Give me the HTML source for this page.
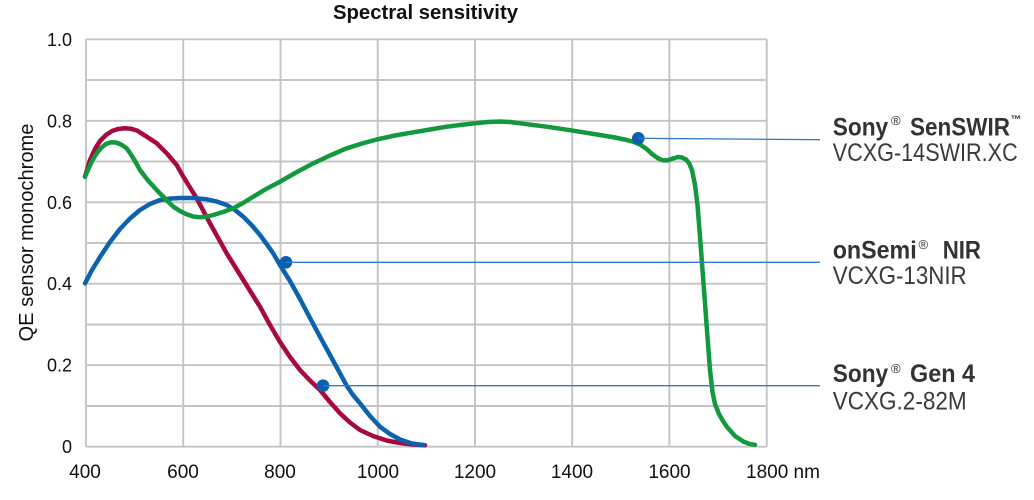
<!DOCTYPE html>
<html>
<head>
<meta charset="utf-8">
<style>
  html,body{margin:0;padding:0;background:#fff;}
  svg{display:block;}
  text{font-family:"Liberation Sans",Arial,sans-serif;}
</style>
</head>
<body>
<svg width="1034" height="500" viewBox="0 0 1034 500" xmlns="http://www.w3.org/2000/svg">
  <rect width="1034" height="500" fill="#fff"/>
  <!-- title -->
  <text x="425.5" y="19" font-size="20" font-weight="bold" text-anchor="middle" fill="#111" textLength="185" lengthAdjust="spacingAndGlyphs">Spectral sensitivity</text>

  <!-- grid -->
  <g stroke="#c4c4c4" stroke-width="1.9" fill="none">
    <line x1="86" y1="39.3" x2="766.7" y2="39.3"/>
    <line x1="86" y1="80" x2="766.7" y2="80"/>
    <line x1="86" y1="120.8" x2="766.7" y2="120.8"/>
    <line x1="86" y1="161.5" x2="766.7" y2="161.5"/>
    <line x1="86" y1="202.3" x2="766.7" y2="202.3"/>
    <line x1="86" y1="243" x2="766.7" y2="243"/>
    <line x1="86" y1="283.7" x2="766.7" y2="283.7"/>
    <line x1="86" y1="324.5" x2="766.7" y2="324.5"/>
    <line x1="86" y1="365.2" x2="766.7" y2="365.2"/>
    <line x1="86" y1="406" x2="766.7" y2="406"/>
    <line x1="86" y1="446.7" x2="766.7" y2="446.7"/>
    <line x1="86" y1="39.3" x2="86" y2="446.7"/>
    <line x1="183.2" y1="39.3" x2="183.2" y2="446.7"/>
    <line x1="280.5" y1="39.3" x2="280.5" y2="446.7"/>
    <line x1="377.7" y1="39.3" x2="377.7" y2="446.7"/>
    <line x1="475" y1="39.3" x2="475" y2="446.7"/>
    <line x1="572.2" y1="39.3" x2="572.2" y2="446.7"/>
    <line x1="669.4" y1="39.3" x2="669.4" y2="446.7"/>
    <line x1="766.7" y1="39.3" x2="766.7" y2="446.7"/>
  </g>

  <!-- y tick labels -->
  <g font-size="18" fill="#111" text-anchor="end">
    <text x="72" y="46">1.0</text>
    <text x="72" y="127.3">0.8</text>
    <text x="72" y="208.8">0.6</text>
    <text x="72" y="290.2">0.4</text>
    <text x="72" y="371.7">0.2</text>
    <text x="72" y="453.2">0</text>
  </g>
  <!-- x tick labels -->
  <g font-size="19" fill="#111" text-anchor="middle">
    <text x="85" y="478">400</text>
    <text x="183" y="478">600</text>
    <text x="280" y="478">800</text>
    <text x="378" y="478">1000</text>
    <text x="475" y="478">1200</text>
    <text x="572" y="478">1400</text>
    <text x="669.5" y="478">1600</text>
  </g>
  <text x="746" y="478" font-size="19" fill="#111">1800 nm</text>

  <!-- y axis label -->
  <text transform="translate(33,232.5) rotate(-90)" font-size="20" fill="#111" text-anchor="middle" textLength="218" lengthAdjust="spacingAndGlyphs">QE sensor monochrome</text>

  <!-- curves -->
  <g fill="none" stroke-width="4.5" stroke-linejoin="round" stroke-linecap="round">
    <polyline stroke="#a8083d" points="85,176.7 90,160 95,149 100,141 106,135 112,131 118,129 125,128.3 131,128.8 137,130.5 146.7,136.7 156.7,143.3 166.7,153.3 176.7,165 183.3,176.7 190,187.5 196.7,198.3 210,223.3 226.7,253.3 243.3,280 260,306.7 270,325 280,342 290,357 300,370 310,380.5 320,390 330,402 340,413.3 350,422.5 360,430 373,436 386.7,440.5 400,443 412,444.5 425,445.3"/>
    <polyline stroke="#0c62ae" points="85,283.3 92,270 100,257 110,242 120,229 130,218.5 140,210 150,204 160,200 170,198.6 180,198 193,198 206.7,199.3 217,201.6 226.7,205 235,210 243.3,216.7 252,225.5 260,235 267,244.5 273.3,253.5 280,265 290,281 300,299 310,318 320,336.7 330,355 340,373.3 346.7,385.7 353,395 360,403.3 370,416 380,426.7 390,434 400,439.5 412,443.5 423.3,445"/>
    <polyline stroke="#12993d" points="85,176.7 88,170 92,161 96.7,153.3 101,148 106,144 111,142.3 116,142.5 121,144.5 126.7,148.3 130,153 135,161 140,170 148,180.5 156.7,190 165,198.5 173.3,206.7 180,211 186,214 193.3,216.5 200,217.2 207,216.6 213.3,215 223,212 233.3,208.3 243,203 253.3,196.7 266,189 280,181.7 296,172.5 313.3,163.3 330,155.5 346.7,148.3 362,143.5 376.7,139.5 395,135.5 413.3,132.3 430,129.5 446.7,126.7 460,125 475,123.3 488,122 500,121.5 510,122 520,123.3 546.7,126.7 573.3,130.7 600,135 615,137.5 626.7,140 634,142 640,144.5 646.7,149 652,154 658.3,158.5 663,160.3 667,160.5 673,158.5 678,157 682,157.5 686,159.5 689,163 692,170 695,185 697.5,205 700,236.7 702.5,270 705,303.3 707.5,337 710,370 712.5,392 715,404 719,414 723,421 727,427 735,436 743.3,441.5 749,443.8 755,444.8"/>
  </g>

  <!-- markers & leader lines -->
  <g fill="#0a5fb0">
    <circle cx="638.3" cy="138.3" r="6.3"/>
    <circle cx="286" cy="262.3" r="6.3"/>
    <circle cx="323" cy="385.7" r="6.3"/>
  </g>
  <g stroke="#2f7bcc" stroke-width="1.3" fill="none">
    <line x1="638.3" y1="138.3" x2="820" y2="139.7"/>
    <line x1="286" y1="262.3" x2="820" y2="262.3"/>
    <line x1="323" y1="385.7" x2="820" y2="385.7"/>
  </g>

  <!-- legend labels -->
  <g fill="#333">
    <text x="832.7" y="135.5" font-size="25" font-weight="bold" textLength="55.5" lengthAdjust="spacingAndGlyphs">Sony</text>
    <text x="891" y="125" font-size="13">®</text>
    <text x="910" y="135.5" font-size="25" font-weight="bold" textLength="100" lengthAdjust="spacingAndGlyphs">SenSWIR</text>
    <text x="1010.5" y="123" font-size="11" font-weight="bold">™</text>
    <text x="832.7" y="161" font-size="25" fill="#3a3a3a" textLength="185" lengthAdjust="spacingAndGlyphs">VCXG-14SWIR.XC</text>

    <text x="832.7" y="258.3" font-size="25" font-weight="bold" textLength="84" lengthAdjust="spacingAndGlyphs">onSemi</text>
    <text x="918.5" y="249" font-size="13">®</text>
    <text x="942.7" y="258.3" font-size="25" font-weight="bold" textLength="38.3" lengthAdjust="spacingAndGlyphs">NIR</text>
    <text x="832.7" y="283.8" font-size="25" fill="#3a3a3a" textLength="134" lengthAdjust="spacingAndGlyphs">VCXG-13NIR</text>

    <text x="832.7" y="382" font-size="25" font-weight="bold" textLength="55.5" lengthAdjust="spacingAndGlyphs">Sony</text>
    <text x="891" y="373" font-size="13">®</text>
    <text x="910" y="382" font-size="25" font-weight="bold" textLength="65" lengthAdjust="spacingAndGlyphs">Gen 4</text>
    <text x="832.7" y="409.5" font-size="25" fill="#3a3a3a" textLength="134" lengthAdjust="spacingAndGlyphs">VCXG.2-82M</text>
  </g>
</svg>
</body>
</html>
